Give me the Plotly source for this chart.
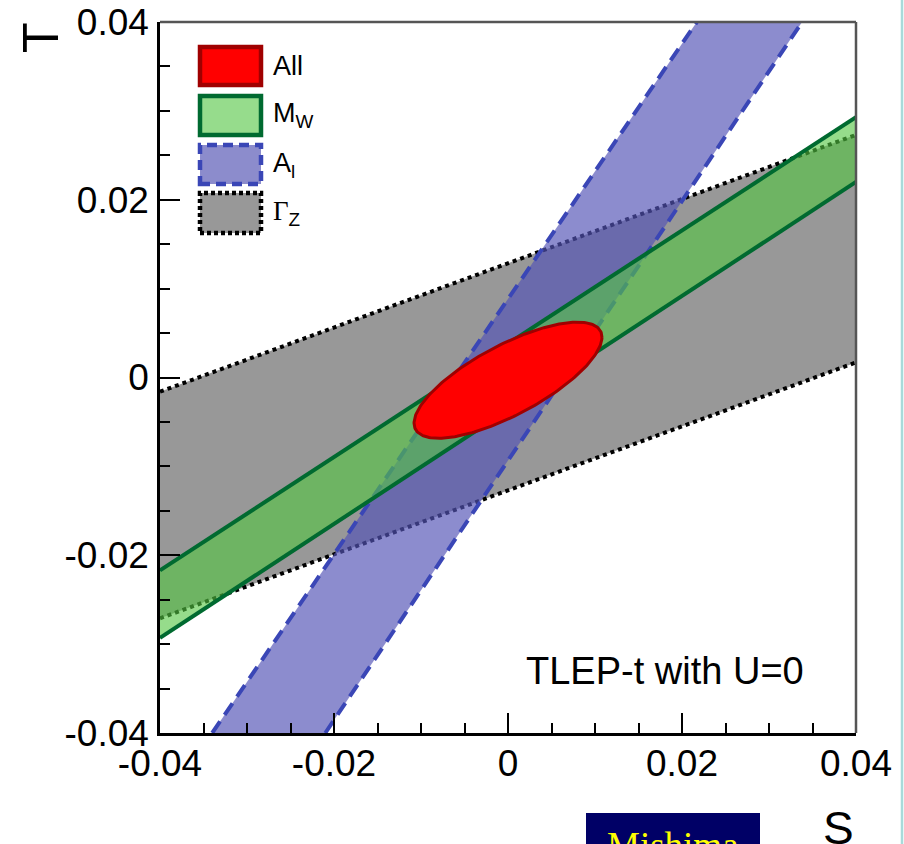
import numpy as np
import plotly.graph_objects as go

# ---------------- data ----------------
x_range = [-0.04, 0.04]
y_range = [-0.04, 0.04]
tick_vals = [-0.04, -0.02, 0.0, 0.02, 0.04]
tick_text = ["-0.04", "-0.02", "0", "0.02", "0.04"]

# Gamma_Z band (edges given at S = -0.04 and S = +0.04)
gz_S = [-0.04, 0.04]
gz_upper = [-0.0016, 0.0273]
gz_lower = [-0.0271, 0.0017]

# M_W band (edges at S = -0.04 and +0.04)
mw_S = [-0.04, 0.04]
mw_upper = [-0.0217, 0.0293]
mw_lower = [-0.0293, 0.0220]

# A_l band (edges given at T = -0.04 and T = +0.04)
al_T = [-0.04, 0.04]
al_left = [-0.0340, 0.0217]
al_right = [-0.0210, 0.0338]

# "All" combined ellipse
all_center = [0.0, -0.0003]
all_sigma = [0.0108, 0.00653]
all_rho = 0.74

legend_labels = ["All", "M<sub>W</sub>", "A<sub>l</sub>",
                 "<span style='font-family:Liberation Serif'>Γ</span><sub>Z</sub>"]

# ---------------- styles ----------------
W, H = 904, 844
ML, MR, MT, MB = 160, 48, 22, 111
PW, PH = W - ML - MR, H - MT - MB

def px(x):
    return (x - ML) / PW

def py(y):
    return (H - MB - y) / PH

gray_fill = "rgba(152,152,152,1)"
blue_fill = "rgba(84,84,182,0.67)"
green_fill = "rgba(83,197,66,0.61)"
blue_line = "#3a46b6"
green_line = "#006a30"
red_line = "#a00000"

fig = go.Figure()

# Gamma_Z
fig.add_trace(go.Scatter(x=gz_S + gz_S[::-1], y=gz_upper + gz_lower[::-1],
                         fill="toself", fillcolor=gray_fill, line=dict(width=0),
                         mode="lines", hoverinfo="skip", showlegend=False))
for edge in (gz_upper, gz_lower):
    fig.add_trace(go.Scatter(x=gz_S, y=edge, mode="lines",
                             line=dict(color="black", width=4, dash="dot"),
                             hoverinfo="skip", showlegend=False))

# A_l
fig.add_trace(go.Scatter(x=al_left + al_right[::-1], y=al_T + al_T[::-1],
                         fill="toself", fillcolor=blue_fill, line=dict(width=0),
                         mode="lines", hoverinfo="skip", showlegend=False))
for edge in (al_left, al_right):
    fig.add_trace(go.Scatter(x=edge, y=al_T, mode="lines",
                             line=dict(color=blue_line, width=4, dash="14px,8px"),
                             hoverinfo="skip", showlegend=False))

# M_W
fig.add_trace(go.Scatter(x=mw_S + mw_S[::-1], y=mw_upper + mw_lower[::-1],
                         fill="toself", fillcolor=green_fill, line=dict(width=0),
                         mode="lines", hoverinfo="skip", showlegend=False))
for edge in (mw_upper, mw_lower):
    fig.add_trace(go.Scatter(x=mw_S, y=edge, mode="lines",
                             line=dict(color=green_line, width=4),
                             hoverinfo="skip", showlegend=False))

# All ellipse
t = np.linspace(0, 2 * np.pi, 241)
es = all_center[0] + all_sigma[0] * np.cos(t)
et = all_center[1] + all_sigma[1] * (all_rho * np.cos(t) + np.sqrt(1 - all_rho ** 2) * np.sin(t))
fig.add_trace(go.Scatter(x=es, y=et, fill="toself", fillcolor="#ff0000",
                         mode="lines", line=dict(color=red_line, width=3),
                         hoverinfo="skip", showlegend=False))

# ---------------- legend (drawn) ----------------
box_rows = [(47, 85), (96, 135), (145, 184), (193, 233)]
box_fill = ["#ff0000", "rgb(150,220,140)", "rgb(140,140,204)", "rgb(152,152,152)"]
box_line = [red_line, green_line, blue_line, "black"]
box_dash = ["solid", "solid", "10px,6px", "4px,3px"]
shapes = []
for (y0, y1), fc, lc, dsh in zip(box_rows, box_fill, box_line, box_dash):
    shapes.append(dict(type="rect", xref="paper", yref="paper",
                       x0=px(200), x1=px(261), y0=py(y1), y1=py(y0),
                       fillcolor=fc, line=dict(color=lc, width=4.5, dash=dsh), layer="above"))

# frame top / right
shapes.append(dict(type="line", xref="paper", yref="paper", x0=0, x1=1, y0=1, y1=1,
                   line=dict(color="#555555", width=2.5), layer="above"))
shapes.append(dict(type="line", xref="paper", yref="paper", x0=1, x1=1, y0=0, y1=1,
                   line=dict(color="#555555", width=2.5), layer="above"))
# light cyan border at the right edge of the slide
shapes.append(dict(type="line", xref="paper", yref="paper", x0=px(902), x1=px(902),
                   y0=py(0), y1=py(H), line=dict(color="#a8dada", width=2.5), layer="above"))
# navy name box
shapes.append(dict(type="rect", xref="paper", yref="paper", x0=px(586), x1=px(760),
                   y0=py(870), y1=py(813), fillcolor="#000066", line=dict(width=0), layer="above"))

annotations = []
for (y0, y1), lab in zip(box_rows, legend_labels):
    annotations.append(dict(x=px(271), y=py((y0 + y1) / 2), xref="paper", yref="paper",
                            text=lab, showarrow=False, xanchor="left", yanchor="middle",
                            font=dict(family="Liberation Sans", size=27, color="black")))
annotations.append(dict(x=px(524), y=py(671), xref="paper", yref="paper",
                        text="TLEP-t with U=0", showarrow=False, xanchor="left", yanchor="middle",
                        font=dict(family="Liberation Sans", size=38, color="black")))
annotations.append(dict(x=px(41), y=py(38), xref="paper", yref="paper", text="T",
                        textangle=-90, showarrow=False, xanchor="center", yanchor="middle",
                        font=dict(family="Liberation Sans", size=50, color="black")))
annotations.append(dict(x=px(838), y=py(828), xref="paper", yref="paper", text="S",
                        showarrow=False, xanchor="center", yanchor="middle",
                        font=dict(family="Liberation Sans", size=46, color="black")))
annotations.append(dict(x=px(605), y=py(845), xref="paper", yref="paper", text="Mishima",
                        showarrow=False, xanchor="left", yanchor="middle",
                        font=dict(family="Liberation Serif", size=37, color="#ffff00")))

axis_common = dict(tickmode="array", tickvals=tick_vals, ticktext=tick_text,
                   ticks="inside", ticklen=20, tickwidth=2, tickcolor="black",
                   showline=True, linecolor="black", linewidth=2.5, mirror=False,
                   showgrid=False, zeroline=False, automargin=False,
                   tickfont=dict(family="Liberation Sans", size=37, color="black"),
                   minor=dict(tickmode="linear", tick0=-0.04, dtick=0.005, ticks="inside",
                              ticklen=10, tickwidth=2, tickcolor="black", showgrid=False))

fig.update_layout(
    width=W, height=H,
    margin=dict(l=ML, r=MR, t=MT, b=MB, pad=0, autoexpand=False),
    paper_bgcolor="white", plot_bgcolor="white",
    xaxis=dict(axis_common, range=x_range, ticklabelstandoff=-4),
    yaxis=dict(axis_common, range=y_range, ticklabelstandoff=1),
    shapes=shapes, annotations=annotations, showlegend=False,
)

fig.write_html("out.html")
